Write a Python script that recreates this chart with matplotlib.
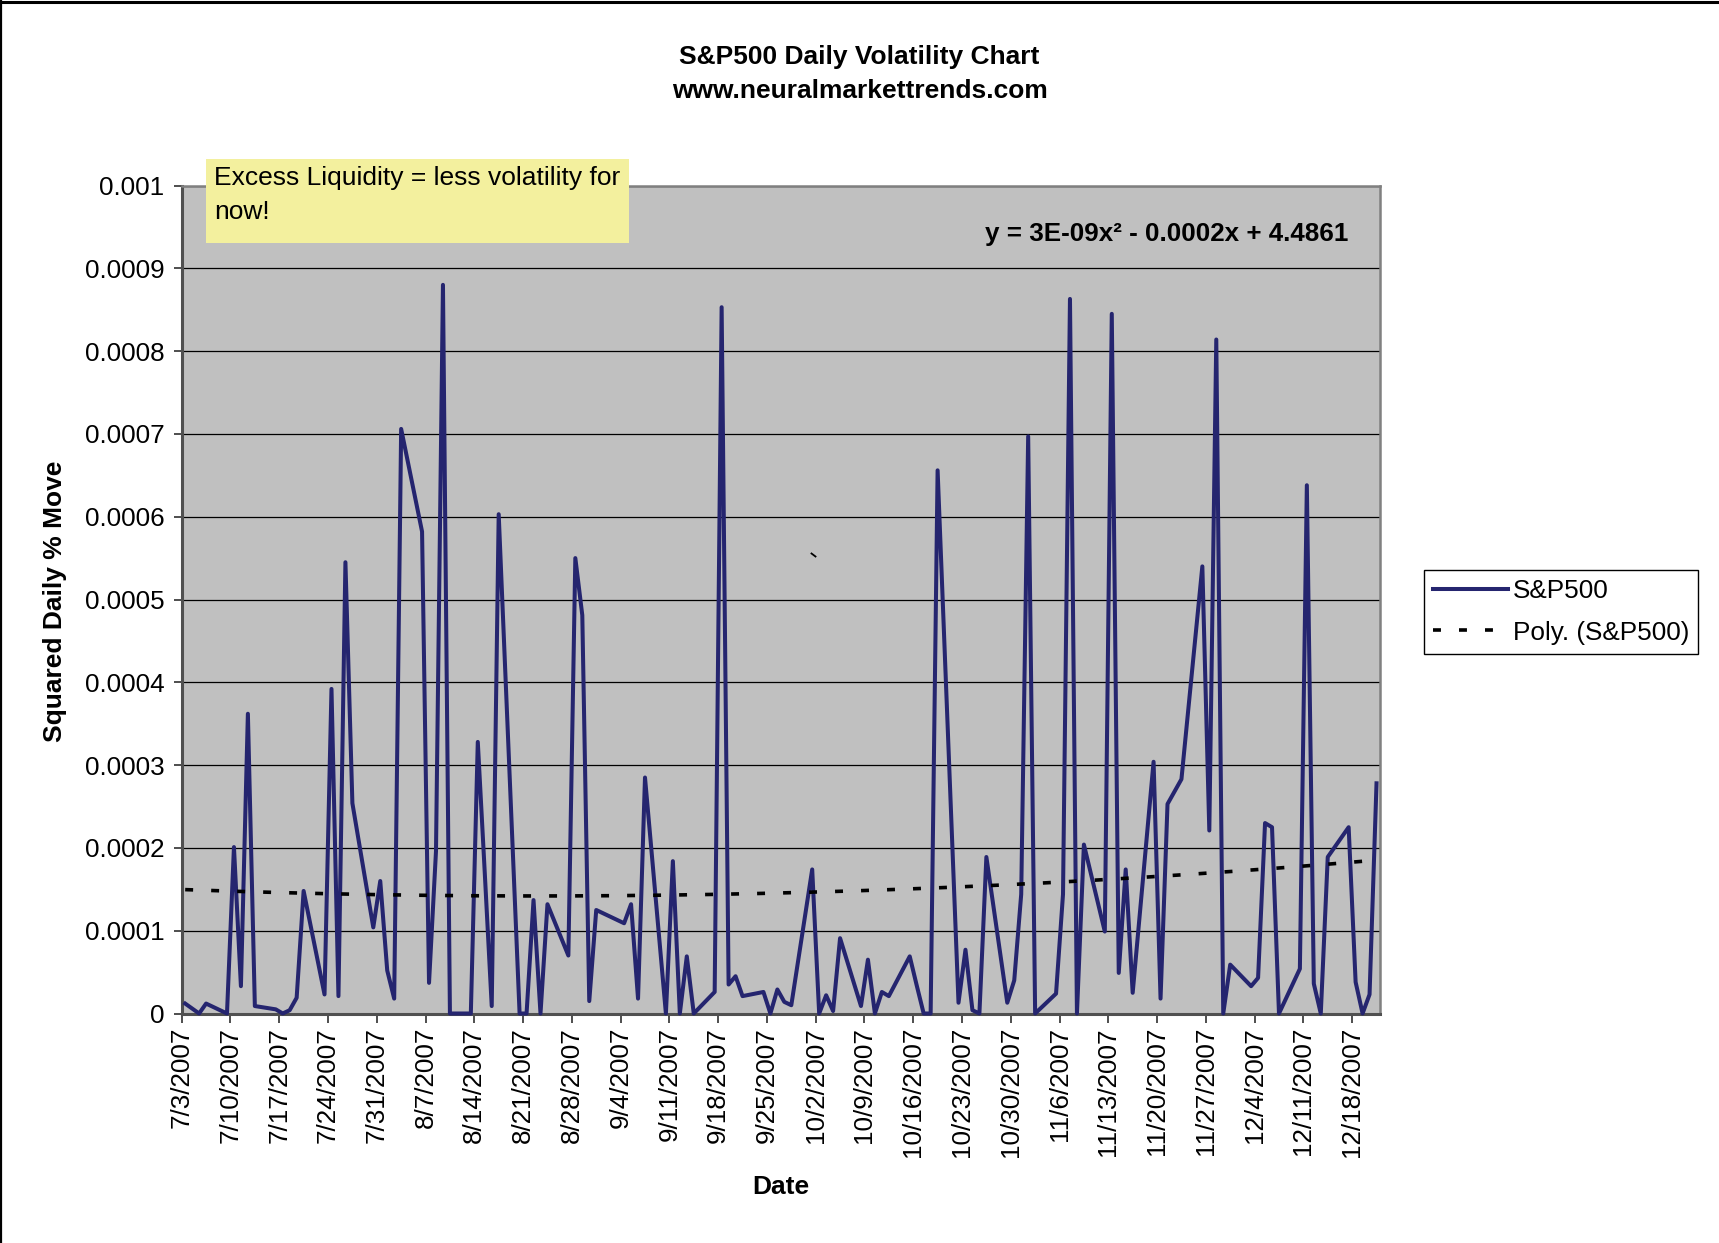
import matplotlib.pyplot as plt
import matplotlib.dates as mdates
import numpy as np
import pandas as pd
from matplotlib.lines import Line2D
from matplotlib.patches import Rectangle

plt.rcParams['font.family'] = ['Liberation Sans', 'DejaVu Sans']

# Datos (dias de mercado, movimiento diario al cuadrado)
dias = [
    '2007-07-03', '2007-07-05', '2007-07-06', '2007-07-09', '2007-07-10', '2007-07-11',
    '2007-07-12', '2007-07-13', '2007-07-16', '2007-07-17', '2007-07-18', '2007-07-19',
    '2007-07-20', '2007-07-23', '2007-07-24', '2007-07-25', '2007-07-26', '2007-07-27',
    '2007-07-30', '2007-07-31', '2007-08-01', '2007-08-02', '2007-08-03', '2007-08-06',
    '2007-08-07', '2007-08-08', '2007-08-09', '2007-08-10', '2007-08-13', '2007-08-14',
    '2007-08-15', '2007-08-16', '2007-08-17', '2007-08-20', '2007-08-21', '2007-08-22',
    '2007-08-23', '2007-08-24', '2007-08-27', '2007-08-28', '2007-08-29', '2007-08-30',
    '2007-08-31', '2007-09-04', '2007-09-05', '2007-09-06', '2007-09-07', '2007-09-10',
    '2007-09-11', '2007-09-12', '2007-09-13', '2007-09-14', '2007-09-17', '2007-09-18',
    '2007-09-19', '2007-09-20', '2007-09-21', '2007-09-24', '2007-09-25', '2007-09-26',
    '2007-09-27', '2007-09-28', '2007-10-01', '2007-10-02', '2007-10-03', '2007-10-04',
    '2007-10-05', '2007-10-08', '2007-10-09', '2007-10-10', '2007-10-11', '2007-10-12',
    '2007-10-15', '2007-10-16', '2007-10-17', '2007-10-18', '2007-10-19', '2007-10-22',
    '2007-10-23', '2007-10-24', '2007-10-25', '2007-10-26', '2007-10-29', '2007-10-30',
    '2007-10-31', '2007-11-01', '2007-11-02', '2007-11-05', '2007-11-06', '2007-11-07',
    '2007-11-08', '2007-11-09', '2007-11-12', '2007-11-13', '2007-11-14', '2007-11-15',
    '2007-11-16', '2007-11-19', '2007-11-20', '2007-11-21', '2007-11-23', '2007-11-26',
    '2007-11-27', '2007-11-28', '2007-11-29', '2007-11-30', '2007-12-03', '2007-12-04',
    '2007-12-05', '2007-12-06', '2007-12-07', '2007-12-10', '2007-12-11', '2007-12-12',
    '2007-12-13', '2007-12-14', '2007-12-17', '2007-12-18', '2007-12-19', '2007-12-20',
    '2007-12-21',
]
valores = [
    0.000012, 0.0, 0.000012, 0.0, 0.000201, 0.000033,
    0.000362, 0.000009, 0.000005, 0.0, 0.000004, 0.000019,
    0.000148, 0.000023, 0.000392, 0.000021, 0.000545, 0.000254,
    0.000104, 0.000160, 0.000052, 0.000018, 0.000706, 0.000582,
    0.000037, 0.000196, 0.000880, 0.0, 0.0, 0.000328,
    0.000170, 0.000009, 0.000603, 0.0, 0.0, 0.000137,
    0.0, 0.000132, 0.000070, 0.000550, 0.000481, 0.000015,
    0.000125, 0.000109, 0.000132, 0.000018, 0.000285, 0.0,
    0.000184, 0.0, 0.000069, 0.0, 0.000026, 0.000853,
    0.000035, 0.000045, 0.000021, 0.000026, 0.0, 0.000029,
    0.000014, 0.000010, 0.000174, 0.0, 0.000022, 0.000003,
    0.000091, 0.000009, 0.000065, 0.0, 0.000026, 0.000021,
    0.000069, 0.000034, 0.0, 0.0, 0.000656, 0.000013,
    0.000077, 0.000004, 0.0, 0.000189, 0.000013, 0.000040,
    0.000144, 0.000697, 0.0, 0.000024, 0.000144, 0.000863,
    0.0, 0.000204, 0.000099, 0.000845, 0.000049, 0.000174,
    0.000025, 0.000304, 0.000018, 0.000253, 0.000283, 0.000540,
    0.000221, 0.000814, 0.0, 0.000059, 0.000033, 0.000043,
    0.000230, 0.000225, 0.0, 0.000054, 0.000638, 0.000036,
    0.0, 0.000189, 0.000225, 0.000038, 0.0, 0.000023,
    0.000278,
]

titulo = 'S&P500 Daily Volatility Chart\nwww.neuralmarkettrends.com'
nota = 'Excess Liquidity = less volatility for\nnow!'
ecuacion = 'y = 3E-09x\u00b2 - 0.0002x + 4.4861'

W, H = 1719, 1243
fig = plt.figure(figsize=(W / 100, H / 100), dpi=100)
ax = fig.add_axes([181.7 / W, 1 - 1013.5 / H, (1380 - 181.7) / W, (1013.5 - 185.5) / H])
ax.set_facecolor('#C0C0C0')

# Cada dia ocupa una casilla; el punto va en el centro
x = mdates.date2num(pd.to_datetime(dias)) + 0.5
y = np.array(valores)

linea, = ax.plot(x, y, color='#25256F', lw=2.9, zorder=3, clip_on=False, label='S&P500')

# Tendencia polinomica de orden 2 (como en Excel)
coef = np.polyfit(x - x[0], y, 2)
xs = np.linspace(x[0], x[-1], 400)
tend, = ax.plot(xs, np.polyval(coef, xs - x[0]), color='black', lw=2.6,
                linestyle=(0, (2.2, 5.0)), zorder=4, label='Poly. (S&P500)')

inicio = mdates.date2num(pd.Timestamp('2007-07-03'))
fin = mdates.date2num(pd.Timestamp('2007-12-22'))
ax.set_xlim(inicio, fin)
ax.set_ylim(0, 0.001)

ax.set_xticks(np.arange(inicio, fin, 7))
ax.xaxis.set_major_formatter(plt.FuncFormatter(
    lambda v, p: '{d.month}/{d.day}/{d.year}'.format(d=mdates.num2date(v))))
ax.set_yticks(np.linspace(0, 0.001, 11))
ax.yaxis.set_major_formatter(plt.FuncFormatter(lambda v, p: f'{round(v, 5):g}'))

ax.tick_params(axis='x', labelsize=18.7, rotation=90, length=6.3, width=1.3,
               color='#404040', pad=3.5)
ax.tick_params(axis='y', labelsize=18.7, length=5.5, width=1.3, color='#404040', pad=7)
for lab in ax.get_xticklabels():
    lab.set_va('top')

ax.yaxis.grid(True, color='black', lw=0.9)
ax.set_axisbelow(True)
for lado in ['top', 'right']:
    ax.spines[lado].set_color('#808080')
    ax.spines[lado].set_linewidth(1.8)
for lado in ['left', 'bottom']:
    ax.spines[lado].set_color('#505050')
    ax.spines[lado].set_linewidth(2.2)

# Titulos y etiquetas
lineas_titulo = titulo.split('\n')
fig.text(0.5, 1 - 57 / H, lineas_titulo[0], ha='center', va='center',
         fontsize=19, fontweight='bold')
fig.text(0.5, 1 - 91 / H, lineas_titulo[1], ha='center', va='center',
         fontsize=19, fontweight='bold')
fig.text(55 / W, 1 - 601 / H, 'Squared Daily % Move', rotation=90, ha='center',
         va='center', fontsize=19, fontweight='bold')
fig.text(780.6 / W, 1 - 1187 / H, 'Date', ha='center', va='center',
         fontsize=19, fontweight='bold')

# Cuadro amarillo con la nota
fig.patches.append(Rectangle((206 / W, 1 - 243 / H), (629 - 206) / W, (243 - 159) / H,
                             transform=fig.transFigure, facecolor='#F3F09E',
                             edgecolor='none', zorder=5))
lineas_nota = nota.split('\n')
fig.text(214 / W, 1 - 177.6 / H, lineas_nota[0], ha='left', va='center',
         fontsize=19, zorder=6)
fig.text(214 / W, 1 - 211.6 / H, lineas_nota[1], ha='left', va='center',
         fontsize=19, zorder=6)

fig.text(1348.5 / W, 1 - 233.5 / H, ecuacion, ha='right', va='center',
         fontsize=18.7, fontweight='bold')

# marca suelta en el area del grafico
fig.add_artist(Line2D([811.5 / W, 815.5 / W], [1 - 553.5 / H, 1 - 556.5 / H],
                      color='black', lw=1.3))

leg = fig.legend(handles=[linea, tend], loc='upper left',
                 bbox_to_anchor=(1424 / W, 1 - 570 / H), bbox_transform=fig.transFigure,
                 fontsize=18.8, frameon=True, fancybox=False, framealpha=1,
                 edgecolor='black', handlelength=2.85, handletextpad=0.2,
                 borderpad=0.35, labelspacing=0.67, borderaxespad=0)
leg.get_frame().set_linewidth(1.0)

# borde exterior del grafico
fig.add_artist(Line2D([0, 1], [1 - 2 / H, 1 - 2 / H], color='black', lw=2.2))
fig.add_artist(Line2D([1 / W, 1 / W], [0, 1], color='black', lw=1.6))

fig.savefig('out.png', dpi=100)
